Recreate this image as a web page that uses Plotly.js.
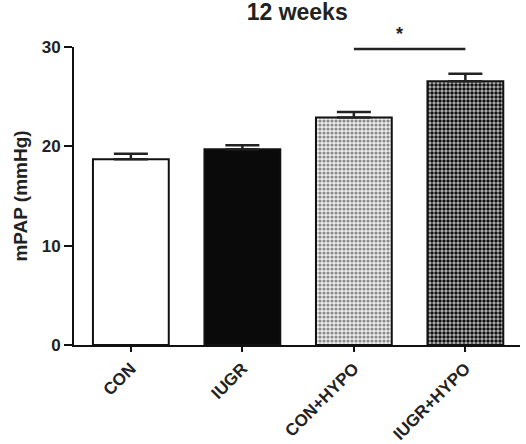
<!DOCTYPE html>
<html>
<head>
<meta charset="utf-8">
<script src="https://cdn.plot.ly/plotly-3.0.1.min.js"></script>
<style>
  html, body { margin: 0; padding: 0; background: #fff; }
  #chart { width: 526px; height: 444px; }
</style>
</head>
<body>
<div id="chart"></div>
<script>
// Mean pulmonary arterial pressure at 12 weeks, mean + SEM per group
const groups = ["CON", "IUGR", "CON+HYPO", "IUGR+HYPO"];
const mpap = [18.7, 19.7, 22.9, 26.55];
const sem = [0.55, 0.4, 0.55, 0.75];

// Significance bracket between the two hypoxia groups
const sigPair = ["CON+HYPO", "IUGR+HYPO"];
const sigLevel = 29.8;
const sigLabel = "*";

// Fill style per group: plain white, solid black, light check, dark check
const styles = [
  { color: "#ffffff" },
  { color: "#0a0a0a" },
  { color: "#eeeeee", pattern: { shape: ".", fgcolor: "#8a8a8a", bgcolor: "#eeeeee", size: 4, solidity: 0.5, fillmode: "replace" } },
  { color: "#bbbbbb", pattern: { shape: ".", fgcolor: "#111111", bgcolor: "#bbbbbb", size: 4, solidity: 0.6, fillmode: "replace" } }
];

const font = "Liberation Sans";

const traces = groups.map((g, i) => ({
  type: "bar",
  x: [g],
  y: [mpap[i]],
  width: 0.68,
  marker: Object.assign({ line: { color: "#111", width: 2 } }, styles[i]),
  error_y: {
    type: "data",
    symmetric: false,
    array: [sem[i]],
    arrayminus: [0],
    color: "#222",
    thickness: 2.5,
    width: 17
  },
  hoverinfo: "skip"
}));

const layout = {
  width: 526,
  height: 444,
  margin: { l: 74, r: 6, t: 47, b: 99 },
  paper_bgcolor: "#fff",
  plot_bgcolor: "#fff",
  showlegend: false,
  barmode: "overlay",
  title: {
    text: "<b>12 weeks</b>",
    font: { family: font, size: 23, color: "#222" },
    x: 0.565, xanchor: "center",
    y: 0.972, yanchor: "middle"
  },
  xaxis: {
    type: "category",
    categoryorder: "array",
    categoryarray: groups,
    range: [-0.51, 3.49],
    showline: true, linecolor: "#111", linewidth: 2,
    ticks: "outside", ticklen: 5, tickwidth: 2, tickcolor: "#111",
    tickangle: -45,
    tickfont: { family: font, size: 17, color: "#222", weight: "bold" },
    showgrid: false, zeroline: false, fixedrange: true
  },
  yaxis: {
    range: [0, 30],
    tickvals: [0, 10, 20, 30],
    showline: true, linecolor: "#111", linewidth: 2,
    ticks: "outside", ticklen: 8, tickwidth: 2, tickcolor: "#111",
    tickfont: { family: font, size: 17, color: "#222", weight: "bold" },
    title: {
      text: "<b>mPAP (mmHg)</b>",
      font: { family: font, size: 19, color: "#222" },
      standoff: 9
    },
    showgrid: false, zeroline: false, fixedrange: true
  },
  shapes: [{
    type: "line", xref: "x", yref: "y",
    x0: sigPair[0], x1: sigPair[1], y0: sigLevel, y1: sigLevel,
    line: { color: "#222", width: 2.5 }
  }],
  annotations: [{
    xref: "paper", yref: "y",
    x: (2.46 + 0.51) / 4.0, y: sigLevel,
    text: sigLabel, showarrow: false,
    yanchor: "bottom", yshift: 3,
    font: { family: font, size: 18, color: "#222", weight: "bold" }
  }]
};

Plotly.newPlot("chart", traces, layout, { displayModeBar: false, staticPlot: true });
</script>
</body>
</html>
